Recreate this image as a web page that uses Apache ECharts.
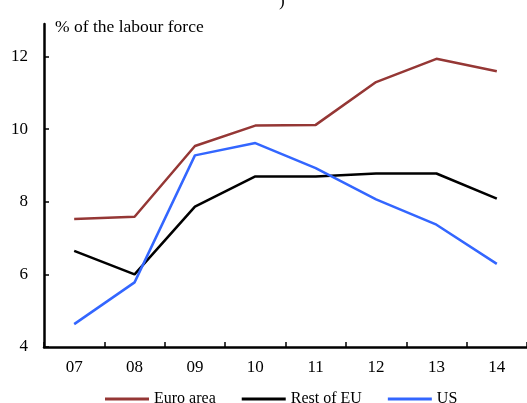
<!DOCTYPE html>
<html><head><meta charset="utf-8">
<script src="https://cdn.jsdelivr.net/npm/echarts@6/dist/echarts.min.js"></script>
<style>html,body{margin:0;padding:0;background:#fff}#c{width:527px;height:403px}</style>
</head><body><div id="c"></div>
<script>
const categories = ['07','08','09','10','11','12','13','14'];
const euroArea = [7.53, 7.59, 9.54, 10.10, 10.12, 11.30, 11.94, 11.60];
const restOfEU = [6.65, 6.00, 7.87, 8.70, 8.70, 8.78, 8.78, 8.09];
const us = [4.63, 5.78, 9.28, 9.62, 8.93, 8.07, 7.37, 6.29];
const yTicks = [4, 6, 8, 10, 12];

const font = '"Liberation Serif", "Times New Roman", serif';
const chart = echarts.init(document.getElementById('c'));
chart.setOption({
  animation: false,
  backgroundColor: '#fff',
  textStyle: { fontFamily: font },
  grid: { left: 44, top: 24, width: 492, height: 323, containLabel: false },
  graphic: [
    { type: 'text', left: 55, top: 18, style: { text: '% of the labour force', font: '17.5px ' + font, fill: '#000' } },
    { type: 'text', left: 279, top: -7, style: { text: ')', font: '17px ' + font, fill: '#000' } }
  ],
  legend: {
    bottom: -9, left: 100,
    itemWidth: 44, itemHeight: 3, itemGap: 26,
    icon: 'rect',
    textStyle: { fontFamily: font, fontSize: 16, color: '#000', padding: [0, 0, 0, 0] },
    data: ['Euro area', 'Rest of EU', 'US']
  },
  xAxis: {
    type: 'category', data: categories, boundaryGap: true,
    axisLine: { lineStyle: { color: '#000', width: 2.5 } },
    axisTick: { show: true, inside: false, length: -5, lineStyle: { color: '#000', width: 1.5 } },
    axisLabel: { color: '#000', fontSize: 17, fontFamily: font, margin: 12 },
    splitLine: { show: false }
  },
  yAxis: {
    type: 'value', min: 4, max: 12.9, interval: 2,
    axisLine: { show: true, lineStyle: { color: '#000', width: 2.5 } },
    axisTick: { show: true, inside: false, length: -5, lineStyle: { color: '#000', width: 1.5 } },
    axisLabel: { color: '#000', fontSize: 17, fontFamily: font, margin: 16, showMaxLabel: false,
      formatter: v => yTicks.includes(v) ? String(v) : '' },
    splitLine: { show: false }
  },
  series: [
    { name: 'Euro area', type: 'line', data: euroArea, symbol: 'none', color: '#953735', lineStyle: { width: 2.5, color: '#953735' } },
    { name: 'Rest of EU', type: 'line', data: restOfEU, symbol: 'none', color: '#000000', lineStyle: { width: 2.5, color: '#000000' } },
    { name: 'US', type: 'line', data: us, symbol: 'none', color: '#3366FF', lineStyle: { width: 2.5, color: '#3366FF' } }
  ]
});
</script></body></html>
